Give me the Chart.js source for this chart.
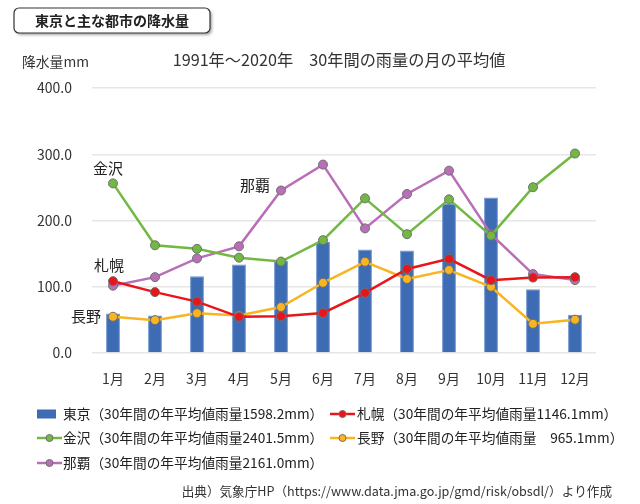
<!DOCTYPE html>
<html lang="ja">
<head>
<meta charset="UTF-8">
<title>東京と主な都市の降水量</title>
<script src="https://cdn.jsdelivr.net/npm/chart.js"></script>
<style>
  html, body { margin: 0; padding: 0; background: #fff; }
  #wrap { position: relative; width: 640px; height: 504px; }
</style>
</head>
<body>
<div id="wrap"><canvas id="rainChart" width="640" height="504"></canvas></div>
<script>
// 月と各都市の平年値（1991-2020）
const months = ['1月', '2月', '3月', '4月', '5月', '6月', '7月', '8月', '9月', '10月', '11月', '12月'];
const tokyo    = [59.7, 56.5, 116.0, 133.7, 139.7, 167.8, 156.2, 154.7, 224.9, 234.8, 96.3, 57.9];
const sapporo  = [108.4, 91.9, 77.6, 54.6, 55.5, 60.4, 90.7, 126.8, 142.2, 109.9, 113.8, 114.5];
const kanazawa = [256.0, 162.6, 157.2, 143.9, 138.0, 170.3, 233.4, 179.3, 231.9, 177.1, 250.2, 301.1];
const nagano   = [54.7, 49.6, 60.0, 56.5, 69.4, 106.0, 137.7, 111.8, 125.3, 100.0, 44.1, 50.3];
const naha     = [101.6, 114.5, 142.8, 161.0, 245.3, 284.4, 188.1, 240.0, 275.2, 179.2, 119.1, 110.0];
const yTicks = [0, 100, 200, 300, 400];

const legendNames = [
  '東京（30年間の年平均値雨量1598.2mm）',
  '札幌（30年間の年平均値雨量1146.1mm）',
  '金沢（30年間の年平均値雨量2401.5mm）',
  '長野（30年間の年平均値雨量　965.1mm）',
  '那覇（30年間の年平均値雨量2161.0mm）'
];

const FONT = '"Noto Sans CJK JP", "Noto Sans", sans-serif';

function lineSet(label, data, color) {
  return {
    type: 'line', label: label, data: data,
    borderColor: color, backgroundColor: color, borderWidth: 2.5,
    pointRadius: 4.5, pointBorderColor: '#6f6f6f', pointBorderWidth: 1,
    pointBackgroundColor: color, tension: 0
  };
}

// 見出し・凡例・注記を描くプラグイン
const decor = {
  id: 'decor',
  afterDraw(chart) {
    const c = chart.ctx;
    c.save();
    // 左上の見出しボックス
    c.shadowColor = 'rgba(0,0,0,0.35)';
    c.shadowOffsetX = 2; c.shadowOffsetY = 2; c.shadowBlur = 3;
    c.beginPath();
    c.roundRect(14, 8, 196, 25, 5);
    c.fillStyle = '#fff'; c.fill();
    c.shadowColor = 'transparent';
    c.strokeStyle = '#333'; c.lineWidth = 1.2; c.stroke();
    c.fillStyle = '#222';
    c.font = 'bold 14px ' + FONT;
    c.textAlign = 'center'; c.textBaseline = 'middle';
    c.fillText('東京と主な都市の降水量', 112, 21);

    c.font = '13.8px ' + FONT; c.fillStyle = '#333'; c.textAlign = 'left';
    c.fillText('降水量mm', 22, 62);

    c.font = '16.2px ' + FONT; c.textAlign = 'center';
    c.fillText('1991年～2020年　30年間の雨量の月の平均値', 339, 60);

    // 線グラフの都市名
    const notes = [[2, 0, '金沢', -5, -15], [4, 4, '那覇', -26, -5], [1, 0, '札幌', -4, -16], [3, 0, '長野', -27, 0]];
    c.font = '15px ' + FONT; c.fillStyle = '#222';
    notes.forEach(n => {
      const p = chart.getDatasetMeta(n[0]).data[n[1]];
      c.fillText(n[2], p.x + n[3], p.y + n[4]);
    });

    // 凡例
    const pos = [[37, 414], [330, 414], [37, 438], [330, 438], [37, 463]];
    c.font = '13.7px ' + FONT; c.textAlign = 'left';
    chart.data.datasets.forEach((ds, i) => {
      const x = pos[i][0], y = pos[i][1];
      if (ds.type === 'bar') {
        c.fillStyle = ds.backgroundColor;
        c.fillRect(x, y - 4.5, 19, 9);
      } else {
        c.strokeStyle = ds.borderColor; c.lineWidth = 2.5;
        c.beginPath(); c.moveTo(x, y); c.lineTo(x + 25, y); c.stroke();
        c.beginPath(); c.arc(x + 12.5, y, 3.5, 0, Math.PI * 2);
        c.fillStyle = ds.borderColor; c.fill();
        c.strokeStyle = '#6f6f6f'; c.lineWidth = 1; c.stroke();
      }
      c.fillStyle = '#222';
      c.fillText(legendNames[i], i % 2 ? x + 27 : x + 26, y);
    });

    c.font = '12.6px ' + FONT; c.textAlign = 'right'; c.fillStyle = '#333';
    c.fillText('出典）気象庁HP（https://www.data.jma.go.jp/gmd/risk/obsdl/）より作成', 612, 491);
    c.restore();
  }
};

new Chart(document.getElementById('rainChart'), {
  data: {
    labels: months,
    datasets: [
      { type: 'bar', label: '東京', data: tokyo, backgroundColor: '#3d6cb4', borderColor: '#6f95cf', borderWidth: 1,
        barPercentage: 0.33, categoryPercentage: 1, order: 10 },
      lineSet('札幌', sapporo, '#e8151b'),
      lineSet('金沢', kanazawa, '#72b843'),
      lineSet('長野', nagano, '#f8b521'),
      lineSet('那覇', naha, '#b86fb8')
    ]
  },
  options: {
    responsive: false,
    animation: false,
    layout: { padding: { left: 0, top: 88, right: 44, bottom: 111 } },
    plugins: { legend: { display: false }, tooltip: { enabled: false } },
    scales: {
      x: {
        grid: { display: false },
        border: { display: false },
        ticks: { color: '#333', font: { size: 14, family: FONT }, padding: 9 },
        afterFit(s) { s.height = 40; }
      },
      y: {
        min: 0, max: 400,
        afterBuildTicks(s) { s.ticks = yTicks.map(v => ({ value: v })); },
        grid: { color: '#e6e6e6', lineWidth: 1.5, drawTicks: false },
        border: { display: false },
        ticks: { color: '#333', font: { size: 14, family: FONT }, padding: 20,
                 callback: v => v.toFixed(1) },
        afterFit(s) { s.width = 92; }
      }
    }
  },
  plugins: [decor]
});
</script>
</body>
</html>
